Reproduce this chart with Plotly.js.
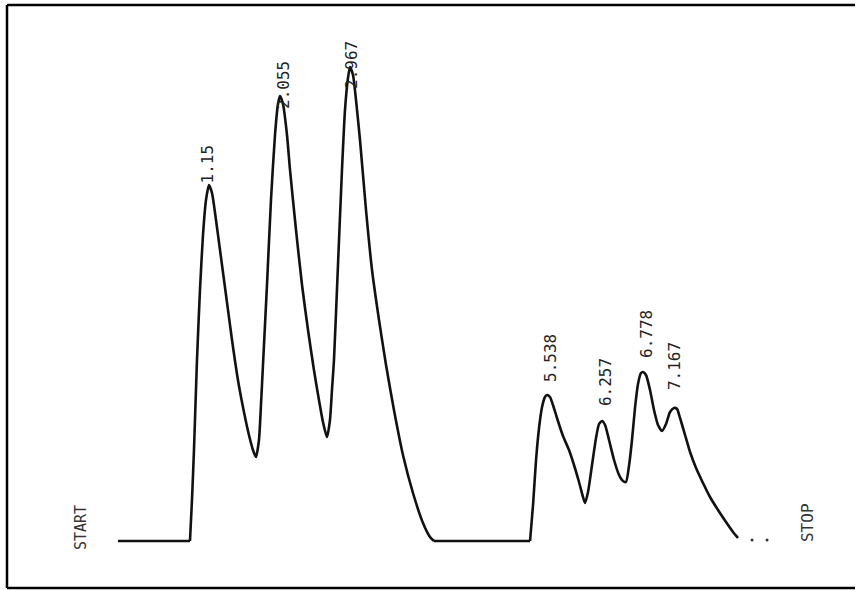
<!DOCTYPE html>
<html>
<head>
<meta charset="utf-8">
<script src="https://cdn.plot.ly/plotly-3.0.1.min.js"></script>
<style>html,body{margin:0;padding:0;background:#fff;}#chart{width:856px;height:590px;}</style>
</head>
<body>
<div id="chart"></div>
<script>
// Retention time (min) where the recorder starts
const startTime = -0.026;

// First peak group (1.15 / 2.055 / 2.967): retention time (min) and detector signal
const group1Time = [0.909,0.935,0.961,1.000,1.039,1.078,1.117,1.156,1.195,1.247,1.299,1.377,1.455,1.532,1.610,1.675,1.727,1.766,
  1.805,1.831,1.857,1.909,1.961,2.013,2.052,2.078,2.117,2.169,2.208,2.286,2.364,2.442,2.519,2.584,2.636,2.688,
  2.727,2.753,2.779,2.831,2.883,2.922,2.961,2.987,3.026,3.065,3.117,3.195,3.273,3.364,3.455,3.558,3.675,3.805,3.935,4.026,4.078];
const group1Signal = [0,41,91,181,251,306,341,356,348,321,291,246,201,161,129,106,91,84,
  101,136,176,256,341,406,437,445,437,406,371,311,256,211,171,141,119,104,
  121,151,181,276,371,431,463,474,466,441,401,331,271,221,176,131,86,48,18,4,0];

// Second peak group (5.538 / 6.257 / 6.778 / 7.167)
const group2Time = [5.325,5.364,5.403,5.442,5.481,5.519,5.545,5.584,5.623,5.675,5.753,5.831,5.896,5.961,6.013,6.039,
  6.078,6.130,6.182,6.221,6.260,6.299,6.351,6.416,6.481,6.532,6.571,
  6.610,6.649,6.688,6.727,6.766,6.792,6.831,6.883,6.935,6.987,7.039,
  7.091,7.143,7.195,7.234,7.273,7.338,7.403,7.481,7.571,7.662,7.766,7.870,7.961,8.026];
const group2Signal = [0,36,81,113,134,144,146,144,136,123,105,91,76,59,44,38,
  49,76,103,117,120,116,101,81,66,60,59,
  75,101,133,157,168,169,166,151,131,116,110,
  117,129,133,132,123,106,89,73,58,44,31,19,9,3];

// Peak labels (retention times printed by the integrator)
const peakLabels = ["1.15","2.055","2.967","5.538","6.257","6.778","7.167"];
const peakTimes  = [1.156, 2.065, 2.974, 5.545, 6.260, 6.792, 7.195];
const peakHeights= [356, 445, 474, 146, 120, 169, 133];

// trailing dots after the trace end
const dotTimes = [8.208, 8.403];
const dotSignal = [1, 1];

// label placement offsets (pixels) relative to each peak apex
const labelXShift = [-1, 4, 2, 3, 3, 3, 0];
const labelYShift = [1, -14, -23, 12, 14, 13, 17];

const lineStyle = {color: '#111', width: 2.6};
const traces = [
  {x: [startTime, group1Time[0]], y: [0, 0], type: 'scatter', mode: 'lines',
   line: lineStyle, hoverinfo: 'skip', showlegend: false},
  {x: group1Time, y: group1Signal, type: 'scatter', mode: 'lines',
   line: Object.assign({shape: 'spline', smoothing: 0.6}, lineStyle), hoverinfo: 'skip', showlegend: false},
  {x: [group1Time[group1Time.length - 1], group2Time[0]], y: [0, 0], type: 'scatter', mode: 'lines',
   line: lineStyle, hoverinfo: 'skip', showlegend: false},
  {x: group2Time, y: group2Signal, type: 'scatter', mode: 'lines',
   line: Object.assign({shape: 'spline', smoothing: 0.6}, lineStyle), hoverinfo: 'skip', showlegend: false},
  {x: dotTimes, y: dotSignal, type: 'scatter', mode: 'markers',
   marker: {color: '#333', size: 3}, hoverinfo: 'skip', showlegend: false}
];

const annotations = peakLabels.map((t, i) => ({
  x: peakTimes[i], y: peakHeights[i], text: t, textangle: -90,
  showarrow: false, xanchor: 'center', yanchor: 'bottom',
  xshift: labelXShift[i], yshift: labelYShift[i], borderpad: 0,
  font: {family: 'DejaVu Sans Mono, monospace', size: 16, color: '#222'}
}));
annotations.push({x: -0.506, y: 13, text: 'START', textangle: -90, showarrow: false,
  xanchor: 'center', yanchor: 'middle',
  font: {family: 'DejaVu Sans Mono, monospace', size: 15, color: '#333'}});
annotations.push({x: 8.922, y: 18, text: 'STOP', textangle: -90, showarrow: false,
  xanchor: 'center', yanchor: 'middle',
  font: {family: 'DejaVu Sans Mono, monospace', size: 16, color: '#333'}});

const layout = {
  width: 856, height: 590,
  margin: {l: 0, r: 0, t: 0, b: 0, pad: 0},
  paper_bgcolor: '#fff', plot_bgcolor: '#fff',
  xaxis: {range: [-1.558, 9.558], visible: false, fixedrange: true},
  yaxis: {range: [-49, 541], visible: false, fixedrange: true},
  annotations: annotations,
  shapes: [
    {type: 'line', xref: 'paper', yref: 'paper', x0: 7/856, x1: 855/856, y0: 1 - 5/590, y1: 1 - 5/590, line: {color: '#000', width: 2.5}},
    {type: 'line', xref: 'paper', yref: 'paper', x0: 7/856, x1: 7/856, y0: 1 - 5/590, y1: 1 - 588/590, line: {color: '#000', width: 2.5}},
    {type: 'line', xref: 'paper', yref: 'paper', x0: 7/856, x1: 855/856, y0: 1 - 588/590, y1: 1 - 588/590, line: {color: '#000', width: 2.5}}
  ],
  showlegend: false
};

Plotly.newPlot('chart', traces, layout, {staticPlot: true, displayModeBar: false});
</script>
</body>
</html>
